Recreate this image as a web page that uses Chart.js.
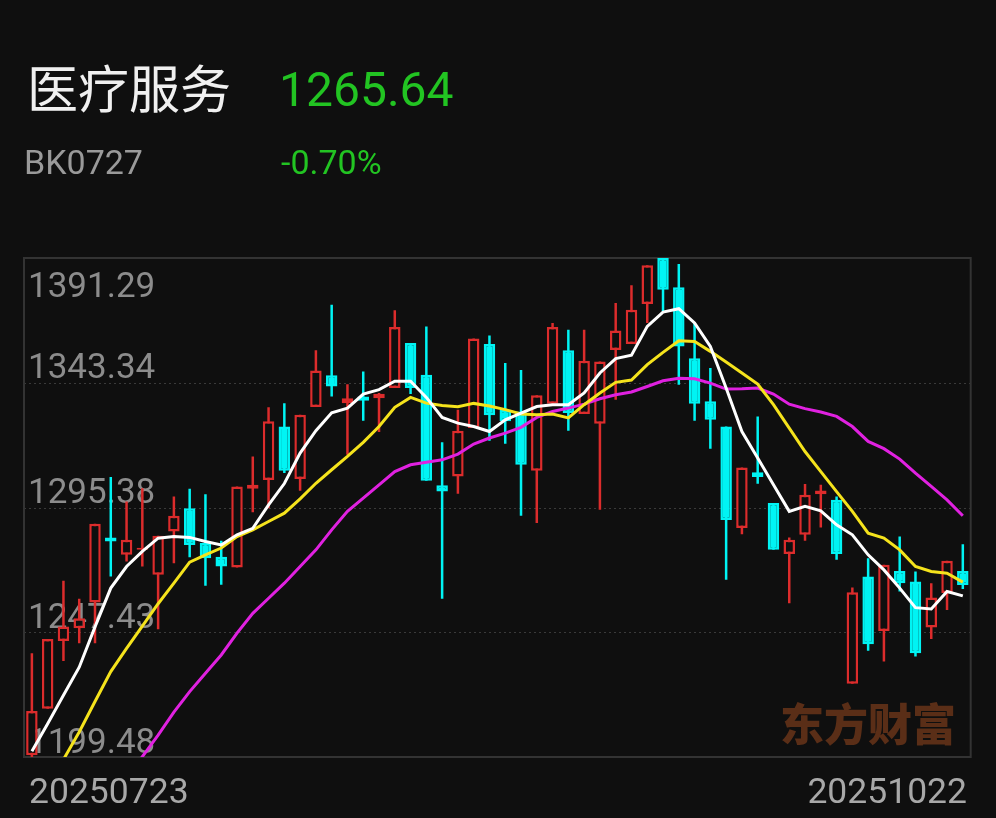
<!DOCTYPE html>
<html><head><meta charset="utf-8">
<script src="https://cdn.jsdelivr.net/npm/chart.js@4.4.1/dist/chart.umd.min.js"></script>
<style>
html,body{margin:0;padding:0;background:#0f0f0f;width:996px;height:818px;overflow:hidden;}
#wrap{position:relative;width:996px;height:818px;}
canvas{position:absolute;left:0;top:0;}
.t{position:absolute;white-space:nowrap;line-height:1;}
</style></head><body>
<div id="wrap">
<canvas id="c" width="996" height="818"></canvas>
<div class="t" style="left:27px;top:61px;font-size:51px;font-family:'Noto Sans CJK SC';color:#f0f0f0">医疗服务</div>
<div class="t" style="left:279px;top:66px;font-size:48px;font-family:Roboto;color:#22c422">1265.64</div>
<div class="t" style="left:24px;top:145px;font-size:34px;font-family:Roboto;color:#9a9a9a">BK0727</div>
<div class="t" style="left:281px;top:145px;font-size:34px;font-family:Roboto;color:#22c422">-0.70%</div>
</div>
<script>
const dates = ["20250723","20250724","20250725","20250728","20250729","20250730","20250731",
"20250801","20250804","20250805","20250806","20250807","20250808","20250811","20250812","20250813","20250814","20250815",
"20250818","20250819","20250820","20250821","20250822","20250825","20250826","20250827","20250828","20250829",
"20250901","20250902","20250903","20250904","20250905","20250908","20250909","20250910","20250911","20250912",
"20250915","20250916","20250917","20250918","20250919","20250922","20250923","20250924","20250925","20250926",
"20250929","20250930","20251009","20251010","20251013","20251014","20251015","20251016","20251017","20251020","20251021","20251022"];
const openP  = [1200.2,1218.0,1244.1,1249.0,1258.9,1283.9,1277.2,1279.1,1269.5,1286.2,1295.1,1281.7,1276.5,1272.3,1302.6,1306.0,1326.5,1306.3,1334.0,1346.2,1335.5,1338.1,1337.4,1341.3,1358.6,1346.4,1303.9,1307.3,1325.9,1358.2,1333.0,1332.3,1309.5,1335.3,1355.8,1331.3,1327.6,1355.9,1358.2,1373.6,1391.29,1380.0,1352.8,1336.2,1326.5,1287.5,1308.9,1297.1,1277.5,1284.9,1300.5,1298.4,1227.6,1268.9,1247.9,1271.0,1266.9,1249.3,1262.5,1271.0];
const highP  = [1239.4,1244.8,1267.2,1260.3,1289.1,1307.1,1297.7,1302.8,1284.5,1299.6,1302.6,1300.5,1282.6,1303.5,1315.0,1333.9,1335.5,1331.0,1355.8,1373.3,1342.8,1347.7,1339.4,1371.2,1358.6,1365.0,1320.5,1333.0,1360.3,1361.5,1350.9,1348.2,1338.5,1366.3,1363.7,1363.7,1351.5,1374.0,1380.8,1388.5,1391.29,1389.0,1366.3,1349.0,1326.5,1310.8,1330.4,1297.1,1283.9,1304.4,1304.1,1299.6,1264.6,1275.9,1273.4,1284.2,1270.8,1266.3,1274.9,1281.3];
const lowP   = [1199.48,1218.0,1236.4,1243.2,1243.2,1268.9,1274.6,1272.7,1248.6,1274.0,1276.3,1265.3,1265.7,1272.3,1293.6,1295.1,1308.6,1301.8,1334.0,1338.1,1315.7,1328.7,1324.4,1341.3,1339.0,1305.7,1260.3,1300.7,1325.9,1321.0,1319.9,1292.2,1289.4,1335.3,1324.9,1331.3,1294.5,1336.8,1358.2,1366.3,1370.8,1342.6,1328.7,1318.0,1267.6,1285.1,1304.5,1279.1,1258.6,1282.6,1287.7,1275.3,1227.6,1240.3,1236.2,1263.1,1238.1,1244.8,1256.0,1264.1];
const closeP = [1217.2,1244.8,1249.6,1252.8,1289.1,1282.3,1283.0,1279.8,1284.5,1292.2,1281.0,1275.9,1272.7,1303.5,1304.1,1328.5,1309.5,1331.0,1348.0,1341.9,1337.4,1336.4,1339.1,1364.8,1341.3,1305.7,1301.5,1324.9,1360.3,1330.8,1328.5,1311.8,1338.5,1364.8,1331.7,1351.8,1351.5,1363.4,1371.4,1388.5,1379.1,1357.3,1335.3,1329.1,1290.6,1310.8,1307.1,1279.1,1283.0,1300.3,1301.9,1277.5,1262.8,1242.8,1273.4,1266.3,1239.4,1260.8,1274.9,1265.64];
const ma5  = [1201.7,1212.3,1223.2,1234.0,1249.5,1264.4,1272.7,1278.5,1283.6,1284.2,1283.9,1282.3,1281.0,1284.9,1287.4,1296.4,1304.6,1316.3,1324.9,1331.8,1333.6,1339.0,1340.7,1343.9,1343.9,1337.7,1330.0,1327.8,1326.5,1324.6,1329.1,1331.7,1334.2,1334.9,1334.9,1339.4,1347.1,1352.6,1353.9,1365.0,1370.5,1371.8,1366.3,1357.3,1341.3,1324.6,1314.4,1304.1,1293.9,1295.8,1294.1,1288.7,1284.9,1277.2,1271.4,1264.4,1256.9,1256.4,1263.1,1261.4];
const ma10 = [1173.0,1186.0,1198.5,1209.1,1220.8,1232.3,1241.2,1249.8,1258.4,1266.3,1274.4,1277.2,1279.8,1284.2,1286.8,1290.0,1293.2,1298.7,1304.7,1309.9,1315.0,1320.4,1326.5,1333.9,1337.7,1335.5,1334.6,1334.1,1335.4,1334.4,1333.0,1331.3,1331.0,1331.3,1329.8,1334.9,1339.4,1343.5,1344.4,1350.3,1355.0,1359.5,1359.2,1355.4,1351.3,1347.1,1342.8,1334.9,1325.9,1316.9,1309.2,1301.5,1293.9,1285.5,1283.6,1279.1,1272.7,1270.8,1270.1,1266.7];
const ma20 = [1143.5,1151.5,1159.5,1167.5,1175.5,1183.5,1191.5,1199.6,1207.9,1216.7,1224.6,1231.7,1238.7,1247.1,1254.7,1260.5,1266.3,1272.7,1279.1,1286.8,1293.9,1299.0,1304.1,1309.2,1311.8,1312.8,1313.7,1315.9,1319.8,1322.1,1324.0,1326.2,1330.0,1332.3,1333.6,1335.1,1337.2,1338.7,1339.8,1341.9,1344.1,1345.1,1344.9,1343.2,1340.9,1341.0,1341.3,1339.0,1335.1,1333.4,1332.1,1330.4,1326.5,1320.8,1318.0,1314.0,1308.6,1303.5,1298.3,1292.2];
const yTicks = [1391.29, 1343.34, 1295.38, 1247.43, 1199.48];

const BG = '#0f0f0f', UP = '#dc2c2c', DN = '#00f4f4';
const isUp = closeP.map((c, i) => c >= openP[i]);
const bodies = openP.map((o, i) => [o, closeP[i]]);
const wicks = lowP.map((l, i) => [l, highP[i]]);

const decor = {
  id: 'decor',
  beforeDatasetsDraw(chart) {
    const {ctx, chartArea: a, scales: {x, y}} = chart;
    ctx.save();
    ctx.font = '900 44px "Noto Sans CJK SC"';
    ctx.fillStyle = '#5a2e17';
    ctx.textAlign = 'right';
    ctx.textBaseline = 'alphabetic';
    ctx.fillText('东方财富', 956, 741);
    ctx.strokeStyle = '#3a3a3a';
    ctx.lineWidth = 1;
    ctx.setLineDash([2, 3]);
    yTicks.slice(1, -1).forEach(v => {
      const py = Math.round(y.getPixelForValue(v)) + 0.5;
      ctx.beginPath(); ctx.moveTo(a.left, py); ctx.lineTo(a.right, py); ctx.stroke();
    });
    ctx.setLineDash([]);
    ctx.strokeStyle = '#333333';
    ctx.lineWidth = 2;
    ctx.strokeRect(a.left, a.top, a.right - a.left, a.bottom - a.top);
    ctx.font = '35px Roboto';
    ctx.fillStyle = '#8c8c8c';
    ctx.textAlign = 'left';
    yTicks.forEach((v, i) => {
      const py = y.getPixelForValue(v);
      const by = i === 0 ? py + 38.5 : py - 4.5;
      ctx.fillText(v.toFixed(2), a.left + 4, by);
    });
    ctx.fillStyle = '#a8a8a8';
    ctx.font = '35.5px Roboto';
    ctx.textAlign = 'left';
    ctx.fillText(dates[0], 29, 803);
    ctx.textAlign = 'right';
    ctx.fillText(dates[dates.length - 1], 967, 803);
    ctx.restore();
  }
};

new Chart(document.getElementById('c'), {
  type: 'bar',
  data: {
    labels: dates,
    datasets: [
      {type: 'line', label: 'MA5', data: ma5, borderColor: '#ffffff', borderWidth: 3, pointRadius: 0, tension: 0, order: 0},
      {type: 'line', label: 'MA10', data: ma10, borderColor: '#f5e31c', borderWidth: 3, pointRadius: 0, tension: 0, order: 0},
      {type: 'line', label: 'MA20', data: ma20, borderColor: '#e021e0', borderWidth: 3, pointRadius: 0, tension: 0, order: 0},
      {type: 'bar', label: 'body', data: bodies,
        backgroundColor: isUp.map(u => u ? BG : DN),
        borderColor: isUp.map(u => u ? UP : DN),
        borderWidth: 2.5, borderSkipped: false, barThickness: 11.5, minBarLength: 2, grouped: false, order: 1, inflateAmount: 0},
      {type: 'bar', label: 'wick', data: wicks,
        backgroundColor: isUp.map(u => u ? UP : DN),
        borderWidth: 0, barThickness: 2.5, grouped: false, order: 2, inflateAmount: 0}
    ]
  },
  options: {
    responsive: false, animation: false, events: [],
    layout: {padding: {left: 24, right: 25.3, top: 258, bottom: 61}},
    plugins: {legend: {display: false}, tooltip: {enabled: false}},
    scales: {
      x: {display: false, offset: true},
      y: {display: false, min: 1199.48, max: 1391.29}
    }
  },
  plugins: [decor]
});
</script>
</body></html>
